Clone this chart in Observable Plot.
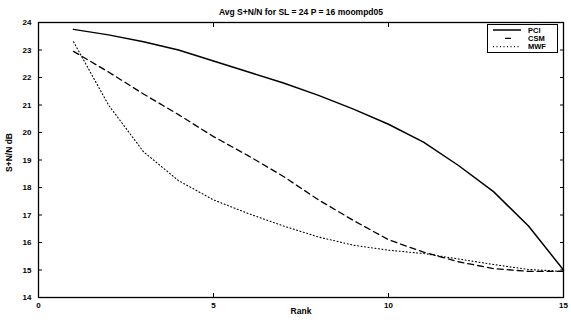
<!DOCTYPE html>
<html><head><meta charset="utf-8">
<script src="https://cdn.jsdelivr.net/npm/d3@7"></script>
<script src="https://cdn.jsdelivr.net/npm/@observablehq/plot@0.6"></script>
<style>
body{margin:0;background:#fff;}
#wrap{position:relative;width:571px;height:320px;}
#legend{position:absolute;left:487px;top:24px;width:69px;height:27px;border:1px solid #000;background:#fff;}
</style></head><body><div id="wrap"></div>
<script>
const ranks = [1,2,3,4,5,6,7,8,9,10,11,12,13,14,15];
const pci = [23.75,23.55,23.3,23.0,22.6,22.2,21.8,21.35,20.85,20.3,19.65,18.8,17.85,16.6,15.0];
const csm = [22.95,22.2,21.4,20.65,19.85,19.15,18.4,17.55,16.8,16.1,15.65,15.3,15.05,14.95,14.95];
const mwf = [23.3,21.0,19.3,18.25,17.55,17.05,16.6,16.2,15.9,15.72,15.6,15.4,15.2,15.02,14.95];
const seriesNames = ["PCI","CSM","MWF"];
const xTicks = [0,5,10,15];
const yTicks = [14,15,16,17,18,19,20,21,22,23,24];
const titleText = "Avg S+N/N for SL = 24 P = 16 moompd05";
const xLabel = "Rank";
const yLabel = "S+N/N dB";

const dashes = {PCI: null, CSM: "6,4", MWF: "1,2.5"};
const widths = {PCI: 1.5, CSM: 1.3, MWF: 1.1};
const valuesBy = {PCI: pci, CSM: csm, MWF: mwf};
const rows = seriesNames.flatMap(s => ranks.map((r,i) => ({series: s, rank: r, value: valuesBy[s][i]})));

const font = "'Liberation Sans', Arial, sans-serif";
const chart = Plot.plot({
  width: 571, height: 320,
  marginLeft: 38, marginRight: 8, marginTop: 22, marginBottom: 23,
  style: {fontFamily: font, fontSize: "8px", fontWeight: "bold", background: "#fff", color: "#000"},
  x: {domain: [0, 15]},
  y: {domain: [14, 24]},
  marks: [
    Plot.axisY({ticks: yTicks, anchor: "left", tickSize: -4, tickPadding: 11, label: null}),
    Plot.axisY({ticks: yTicks, anchor: "right", tickSize: -4, tickFormat: () => "", label: null}),
    Plot.axisX({ticks: xTicks, anchor: "bottom", tickSize: -4, tickPadding: 9, label: null}),
    Plot.axisX({ticks: xTicks, anchor: "top", tickSize: -4, tickFormat: () => "", label: null}),
    Plot.frame({stroke: "#000", strokeWidth: 1.3}),
    ...seriesNames.map(s => Plot.line(rows.filter(d => d.series === s), {
      x: "rank", y: "value", stroke: "#000", strokeWidth: widths[s], strokeDasharray: dashes[s]
    })),
    Plot.text([titleText], {frameAnchor: "top", dy: -14, fontSize: 8.5, fontWeight: "bold", text: d => d}),
    Plot.text([xLabel], {frameAnchor: "bottom", dy: 16, fontSize: 8.5, fontWeight: "bold", text: d => d}),
    Plot.text([yLabel], {frameAnchor: "left", dx: -29, dy: 12, rotate: -90, fontSize: 8.5, fontWeight: "bold", text: d => d})
  ]
});
const wrap = document.getElementById("wrap");
wrap.appendChild(chart);

// legend
const leg = d3.select(wrap).append("div").attr("id", "legend");
const lsvg = leg.append("svg").attr("width", 69).attr("height", 27).style("display", "block");
seriesNames.forEach((s, i) => {
  const y = 5 + i * 8.3;
  lsvg.append("line").attr("x1", 5).attr("x2", 33).attr("y1", y).attr("y2", y)
    .attr("stroke", "#000").attr("stroke-width", widths[s])
    .attr("stroke-dasharray", s === "CSM" ? "0,12,6,100" : dashes[s]);
  lsvg.append("text").attr("x", 40).attr("y", y + 2.8).text(s)
    .attr("font-family", font).attr("font-size", 7.5).attr("font-weight", "bold");
});
</script></body></html>
